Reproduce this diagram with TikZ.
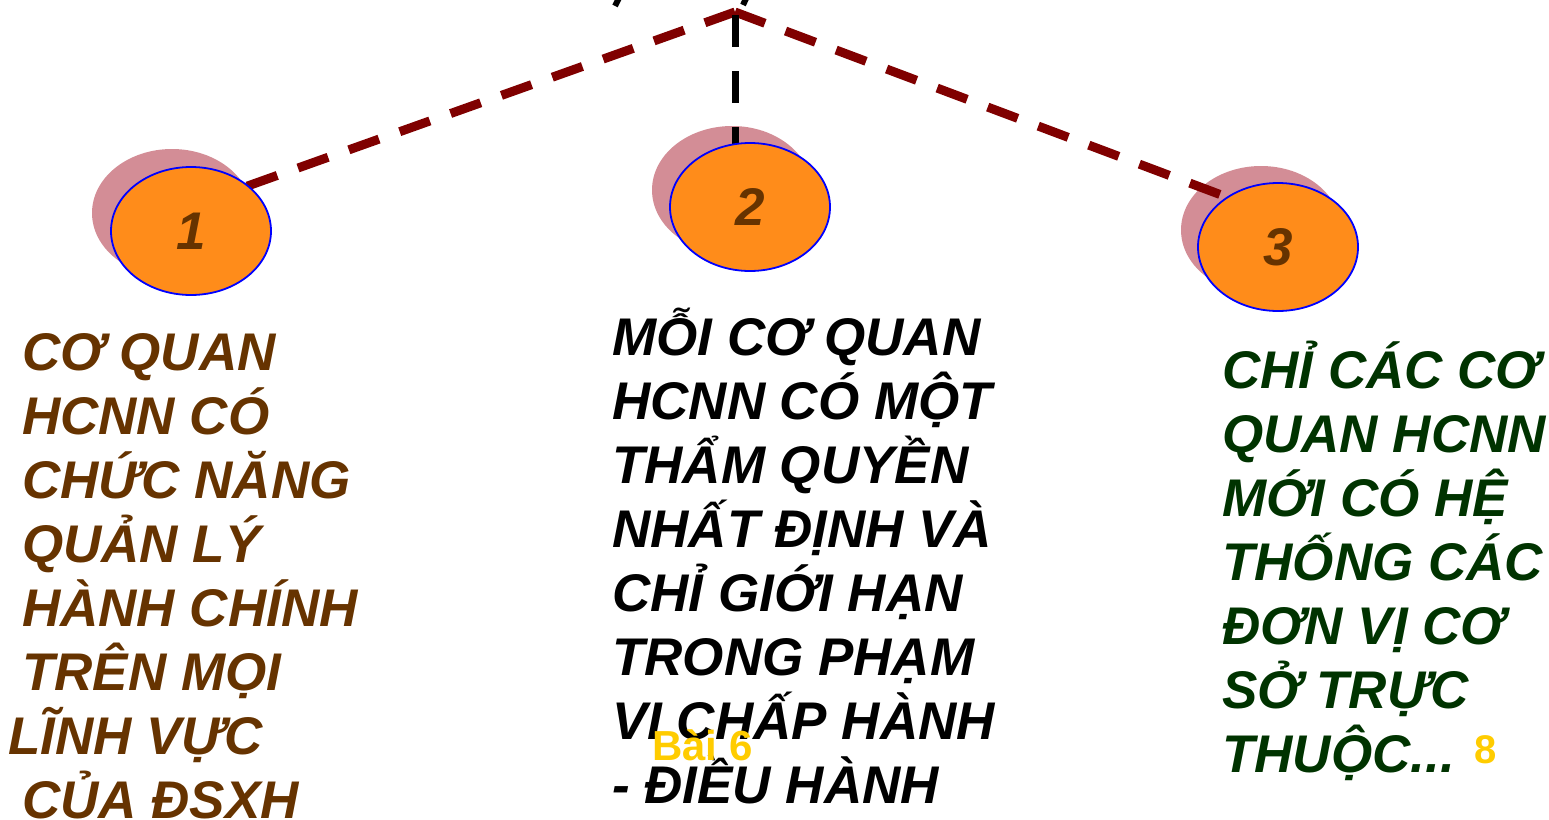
\documentclass[tikz,border=0pt]{standalone}
\usepackage{fontspec}
\setmainfont{Liberation Sans}
\usetikzlibrary{shapes.geometric}

\definecolor{blobfill}{HTML}{FF8C1A}
\definecolor{shadowpink}{HTML}{D38D96}
\definecolor{linkred}{HTML}{800000}
\definecolor{textbrown}{HTML}{663300}
\definecolor{textgreen}{HTML}{003300}
\definecolor{tagyellow}{HTML}{FFCC00}

% lines of a text block, first baseline at the node's base
\newcommand{\textlines}[1]{\vtop{\baselineskip=64pt\lineskiplimit=-\maxdimen\lineskip=0pt #1}}

\begin{document}
\begin{tikzpicture}[x=1pt,y=-1pt,
    every node/.style={inner sep=0pt},
    blob/.style={ellipse,minimum width=160pt,minimum height=128pt,fill=blobfill,draw=blue,line width=1.8pt,
      font=\fontsize{53}{64}\selectfont\bfseries\itshape,text=textbrown},
    blobshadow/.style={ellipse,minimum width=160pt,minimum height=128pt,fill=shadowpink},
    link/.style={draw=linkred,line width=9pt,dash pattern=on 32pt off 22pt},
    bigtext/.style={anchor=base west,font=\fontsize{53}{64}\selectfont\bfseries\itshape},
    tag/.style={anchor=base west,font=\fontsize{42}{48}\selectfont\bfseries,text=tagyellow}]
    \useasboundingbox (0,0) rectangle (1549,819);
    \clip (0,0) rectangle (1549,819);
    % shadows
    \node[blobshadow] (s1) at (172,213) {};
    \node[blobshadow] (s2) at (732,190) {};
    \node[blobshadow] (s3) at (1261,230) {};
    % links
    \coordinate (top) at (735,12);
    \coordinate (rightend) at (1240,202);
    \coordinate (midtop) at (735,15);
    \coordinate (midend) at (735,160);
    \draw[link] (top) -- (s1.center);
    \draw[link] (top) -- (rightend);
    \draw[line width=7pt,dash pattern=on 32pt off 24pt] (midtop) -- (midend);
    \draw[line width=6pt] (623,-10) -- (615,6);
    \draw[line width=6pt] (750,-10) -- (743,5);
    % ellipses
    \node[blob] (e1) at (191,231) {1};
    \node[blob] (e2) at (750,207) {2};
    \node[blob] (e3) at (1278,247) {3};
    % texts
    \node[bigtext,text=textbrown] (left) at (22,370) {\textlines{%
        \hbox{CƠ QUAN}\hbox{HCNN CÓ}\hbox{CHỨC NĂNG}\hbox{QUẢN LÝ}%
        \hbox{HÀNH CHÍNH}\hbox{TRÊN MỌI}\hbox{\kern-14pt LĨNH VỰC}\hbox{CỦA ĐSXH}}};
    \node[bigtext,text=black] (middle) at (612,355) {\textlines{%
        \hbox{MỖI CƠ QUAN}\hbox{HCNN CÓ MỘT}\hbox{THẨM QUYỀN}\hbox{NHẤT ĐỊNH VÀ}%
        \hbox{CHỈ GIỚI HẠN}\hbox{TRONG PHẠM}\hbox{VI CHẤP HÀNH}\hbox{- ĐIỀU HÀNH}}};
    \node[bigtext,text=textgreen] (right) at (1222,388) {\textlines{%
        \hbox{CHỈ CÁC CƠ}\hbox{QUAN HCNN}\hbox{MỚI CÓ HỆ}\hbox{THỐNG CÁC}%
        \hbox{ĐƠN VỊ CƠ}\hbox{SỞ TRỰC}\hbox{THUỘC...}}};
    \node[tag] (lesson) at (652,760) {Bài 6};
    \node[tag,font=\fontsize{40}{48}\selectfont\bfseries] (page) at (1474,763) {8};
\end{tikzpicture}
\end{document}
